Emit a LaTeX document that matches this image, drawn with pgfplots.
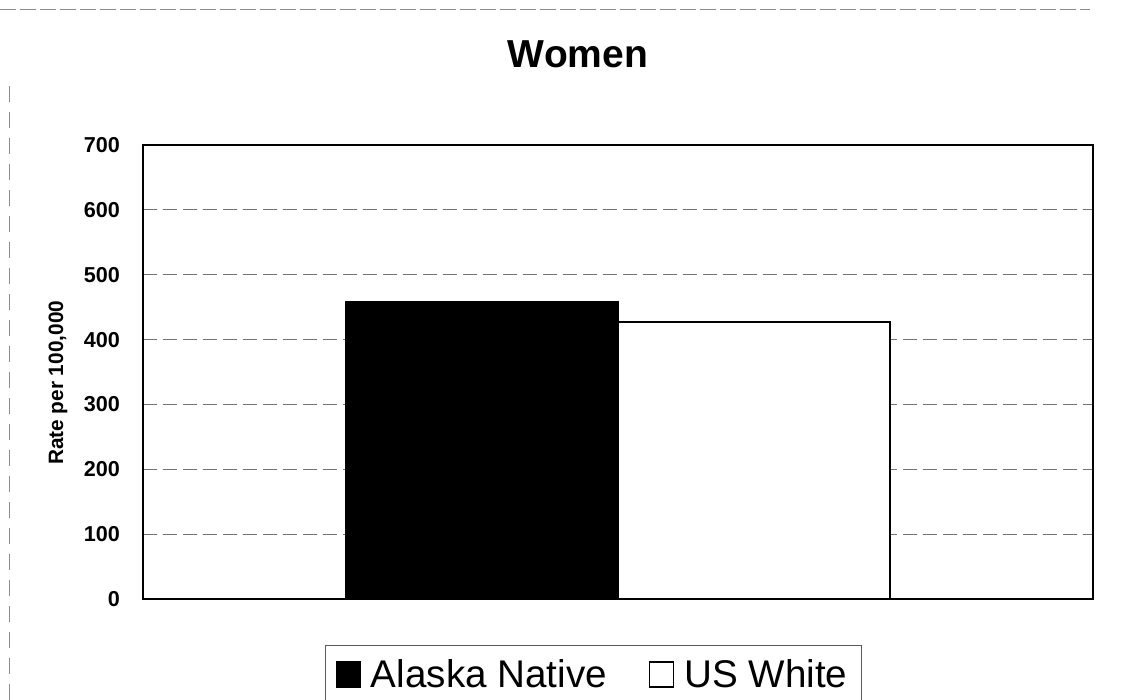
\documentclass[border=0pt]{standalone}
\usepackage{fontspec}
\setmainfont{Liberation Sans}
\usepackage{pgfplots}
\pgfplotsset{compat=1.18}
\begin{document}
\begin{tikzpicture}[x=1pt,y=1pt]
\useasboundingbox (0,0) rectangle (568.5,350);
\draw[black!45, line width=0.4pt, dash pattern=on 8pt off 2pt] (0,345.5) -- (545,345.5);
\draw[black!45, line width=0.4pt, dash pattern=on 8pt off 5pt] (4.5,0) -- (4.5,310);
\node[font=\bfseries\fontsize{19.5}{22}\selectfont, anchor=base] at (289,316) {Women};
\begin{axis}[
  at={(71.5pt,50.5pt)}, anchor=south west,
  scale only axis, width=475pt, height=227pt,
  xmin=-0.5, xmax=0.5, ymin=0, ymax=700,
  ytick={0,100,...,700}, xtick=\empty,
  major tick length=0pt,
  axis line style={line width=1.1pt},
  ymajorgrids, major grid style={black!55, line width=0.45pt, dash pattern=on 7pt off 3pt},
  /pgf/number format/assume math mode=true,
  yticklabel style={font=\bfseries\fontsize{10.8}{12}\selectfont, xshift=-8pt},
  ylabel={Rate per 100,000},
  ylabel style={font=\bfseries\fontsize{10.4}{12}\selectfont, at={(axis description cs:-0.0895,0.476)}, anchor=center},
  ybar=0pt, bar width=136pt,
  legend style={draw=black!65, line width=0.5pt,
    at={(axis description cs:0.1916,-0.1013)}, anchor=north west,
    font=\fontsize{19.3}{22}\selectfont, inner xsep=5pt, inner ysep=5pt},
  legend columns=2,
  legend image code/.code={\draw[#1, line width=0.6pt] (2.5pt,-6pt) rectangle (14.5pt,6.5pt); \path (17.5pt,0pt);},
  /tikz/every even column/.append style={column sep=19pt},
]
\addplot[fill=black, draw=black, line width=0.8pt] coordinates {(0,459)};
\addplot[fill=white, draw=black, line width=0.8pt] coordinates {(0,427)};
\legend{Alaska Native, US White}
\end{axis}
\end{tikzpicture}
\end{document}
